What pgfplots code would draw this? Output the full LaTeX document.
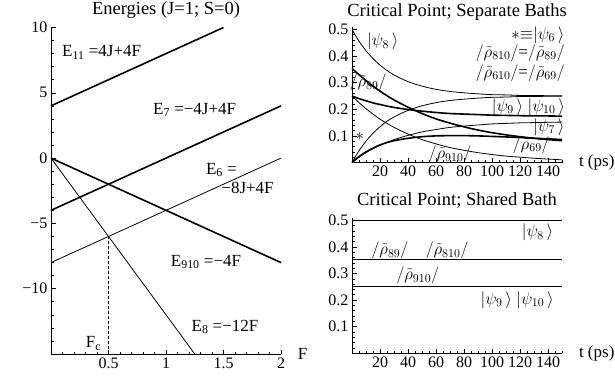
\RequirePackage{fix-cm}
\documentclass[border=0pt]{standalone}
\usepackage{fontspec}
\setmainfont{Liberation Serif}
\usepackage{pgfplots}
\pgfplotsset{compat=1.18}

\newcommand{\ket}[1]{$|\psi_{#1}\,\rangle$}
\newcommand{\rt}[1]{$/\tilde{\rho}_{#1}/$}

\pgfplotsset{
  mma/.style={
    scale only axis,
    axis lines=left,
    axis line style={-, line width=0.8pt},
    tick align=inside,
    major tick length=4.5pt,
    minor tick length=2.5pt,
    every tick/.style={black, line width=0.6pt},
    tick label style={font=\fontsize{16}{18}\selectfont},
    clip=false,
  },
  thin curve/.style={black, line width=0.8pt, no marks},
  thick curve/.style={black, line width=1.6pt, no marks},
}
\tikzset{lab/.style={font=\fontsize{17}{20}\selectfont, inner sep=0pt}}

% separate-bath dynamics, t in ps
\pgfplotstableread{
t     p8     p6     p7     p9     r89    r910   r69
0     0.500  0.000  0.000  0.250  0.354  0.250  0.000
5     0.456  0.044  0.020  0.240  0.330  0.225  0.022
10    0.420  0.080  0.037  0.232  0.308  0.202  0.040
15    0.391  0.110  0.052  0.224  0.287  0.182  0.054
20    0.366  0.134  0.065  0.218  0.268  0.163  0.066
25    0.346  0.155  0.076  0.212  0.251  0.147  0.075
30    0.329  0.171  0.086  0.207  0.235  0.132  0.082
40    0.304  0.196  0.102  0.199  0.208  0.107  0.091
50    0.287  0.213  0.115  0.193  0.184  0.086  0.097
60    0.275  0.225  0.124  0.188  0.164  0.070  0.100
70    0.267  0.233  0.132  0.184  0.148  0.056  0.101
80    0.262  0.238  0.137  0.182  0.134  0.046  0.101
90    0.258  0.242  0.141  0.180  0.122  0.037  0.100
100   0.255  0.245  0.145  0.178  0.112  0.030  0.098
110   0.254  0.246  0.147  0.177  0.104  0.024  0.096
120   0.252  0.248  0.149  0.176  0.097  0.020  0.094
130   0.252  0.248  0.150  0.175  0.091  0.016  0.091
140   0.251  0.249  0.151  0.175  0.086  0.013  0.089
150   0.251  0.249  0.152  0.174  0.082  0.010  0.086
}\separate

\begin{document}
\begin{tikzpicture}
\useasboundingbox (0pt,0pt) rectangle (615pt,381pt);

% titles
\node[anchor=base, font=\fontsize{18.5}{22}\selectfont] at (166pt,366pt) {Energies (J=1; S=0)};
\node[anchor=base, font=\fontsize{18.5}{22}\selectfont] at (457pt,364pt) {Critical Point; Separate Baths};
\node[anchor=base, font=\fontsize{18.5}{22}\selectfont] at (457pt,175.5pt) {Critical Point; Shared Bath};

% energy levels versus F
\begin{axis}[mma, at={(51pt,27pt)}, anchor=south west,
  width=230pt, height=326.5pt,
  xmin=0, xmax=2, ymin=-15, ymax=10,
  xtick={0.5,1,1.5,2}, xticklabels={0.5,1,1.5,2},
  ytick={-10,-5,0,5,10}, yticklabels={−10,−5,0,5,10},
  minor xtick={0.1,0.2,0.3,0.4,0.6,0.7,0.8,0.9,1.1,1.2,1.3,1.4,1.6,1.7,1.8,1.9},
  minor ytick={-14,-13,-12,-11,-9,-8,-7,-6,-4,-3,-2,-1,1,2,3,4,6,7,8,9},
]
\addplot[thick curve] coordinates {(0,4) (1.5,10)};
\addplot[thick curve] coordinates {(0,-4) (2,4)};
\addplot[thin curve] coordinates {(0,-8) (2,0)};
\addplot[thick curve] coordinates {(0,0) (2,-8)};
\addplot[thin curve] coordinates {(0,0) (1.25,-15)};
\addplot[black, densely dashed, line width=0.7pt] coordinates {(0.5,-15) (0.5,-6)};
\node[lab, anchor=west] at (axis cs:0.096,8.1) {E\textsubscript{11} =4J+4F};
\node[lab, anchor=west] at (axis cs:0.887,3.7) {E\textsubscript{7} =−4J+4F};
\node[lab] at (axis cs:1.482,-0.92) {E\textsubscript{6} =};
\node[lab] at (axis cs:1.709,-2.3) {−8J+4F};
\node[lab] at (axis cs:1.348,-7.95) {E\textsubscript{910} =−4F};
\node[lab] at (axis cs:1.513,-12.93) {E\textsubscript{8} =−12F};
\node[lab] at (axis cs:0.37,-14.2) {F\textsubscript{c}};
\node[lab] at (axis cs:2.187,-15) {F};
\end{axis}

% populations and coherences, separate baths
\begin{axis}[mma, at={(352pt,218.5pt)}, anchor=south west,
  width=210pt, height=135.7pt,
  xmin=0, xmax=150, ymin=0, ymax=0.51,
  xtick={20,40,...,140}, xticklabels={20,40,60,80,100,120,140},
  ytick={0.1,0.2,0.3,0.4,0.5}, yticklabels={0.1,0.2,0.3,0.4,0.5},
  minor xtick={0,5,...,150},
  minor ytick={0,0.02,...,0.5},
]
\addplot[thin curve, smooth] table[x=t, y=p8] {\separate};
\addplot[thin curve, smooth] table[x=t, y=p6] {\separate};
\addplot[thin curve, smooth] table[x=t, y=p7] {\separate};
\addplot[thick curve, smooth] table[x=t, y=p9] {\separate};
\addplot[thick curve, smooth] table[x=t, y=r89] {\separate};
\addplot[thin curve, smooth] table[x=t, y=r910] {\separate};
\addplot[thick curve, smooth] table[x=t, y=r69] {\separate};
\node[lab] at (axis cs:22,0.455) {\ket{8}};
\node[lab] at (axis cs:11.5,0.30) {\rt{89}};
\node[lab, anchor=east] at (axis cs:152,0.479) {${\ast}{\equiv}|\psi_6\,\rangle$};
\node[lab, anchor=east] at (axis cs:152,0.412) {\rt{810}=\rt{89}};
\node[lab, anchor=east] at (axis cs:152,0.336) {\rt{610}=\rt{69}};
\node[lab] at (axis cs:126,0.209) {\ket{9}\ \ket{10}};
\node[lab, anchor=east] at (axis cs:152,0.134) {\ket{7}};
\node[lab] at (axis cs:128,0.066) {\rt{69}};
\node[lab] at (axis cs:70,0.03) {\rt{910}};
\node[lab] at (axis cs:5.7,0.097) {$\ast$};
\node[lab] at (axis cs:174.8,0) {t (ps)};
\end{axis}

% populations and coherences, shared bath
\begin{axis}[mma, at={(352pt,27.7pt)}, anchor=south west,
  width=210pt, height=135.7pt,
  xmin=0, xmax=150, ymin=0, ymax=0.51,
  xtick={20,40,...,140}, xticklabels={20,40,60,80,100,120,140},
  ytick={0.1,0.2,0.3,0.4,0.5}, yticklabels={0.1,0.2,0.3,0.4,0.5},
  minor xtick={0,5,...,150},
  minor ytick={0,0.02,...,0.5},
]
\addplot[thick curve, line width=1.2pt] coordinates {(0,0.5) (150,0.5)};
\addplot[thick curve, line width=1.2pt] coordinates {(0,0.354) (150,0.354)};
\addplot[thick curve, line width=1.2pt] coordinates {(0,0.25) (150,0.25)};
\node[lab] at (axis cs:132.5,0.455) {\ket{8}};
\node[lab] at (axis cs:27.1,0.386) {\rt{89}};
\node[lab] at (axis cs:67.9,0.386) {\rt{810}};
\node[lab] at (axis cs:47,0.292) {\rt{910}};
\node[lab] at (axis cs:118,0.2) {\ket{9}\ \ket{10}};
\node[lab] at (axis cs:174.8,0) {t (ps)};
\end{axis}
\end{tikzpicture}
\end{document}
